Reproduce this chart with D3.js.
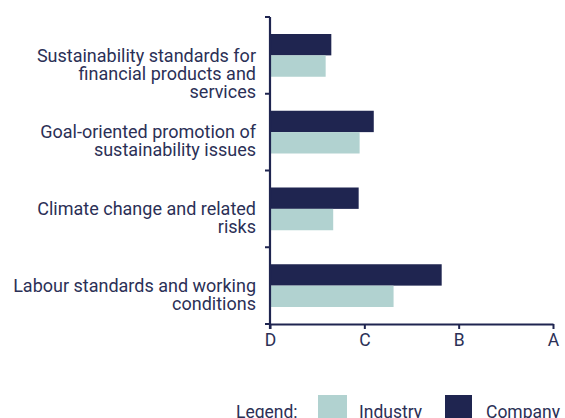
<!DOCTYPE html>
<html><head><meta charset="utf-8">
<script src="https://cdn.jsdelivr.net/npm/d3@7"></script>
<style>body{margin:0;background:#fff}svg{display:block}</style>
</head><body>
<script>
const categories = [
  ["Sustainability standards for","financial products and","services"],
  ["Goal-oriented promotion of","sustainability issues"],
  ["Climate change and related","risks"],
  ["Labour standards and working","conditions"]
];
const companyValues = [0.65, 1.10, 0.94, 1.82];
const industryValues = [0.59, 0.95, 0.67, 1.31];
const tickLabels = ["D","C","B","A"];
const seriesNames = ["Industry","Company"];

const W = 565, H = 418;
const navy = "#1f2550", teal = "#b1d2d0", textCol = "#2b3056";
const svg = d3.select("body").append("svg").attr("width", W).attr("height", H);
const font = "Roboto, 'Noto Sans', sans-serif";
const fs = 17.5;

const x = d3.scaleLinear().domain([0, 3]).range([270, 553]);
const y = d3.scaleBand().domain(d3.range(categories.length)).range([17, 324]);
const inner = d3.scaleBand().domain(["company","industry"]).range([17, y.bandwidth() - 17]);

const g = svg.append("g");
categories.forEach((c, i) => {
  const b = y(i);
  g.append("rect").attr("x", x(0)).attr("y", b + inner("company"))
    .attr("width", x(companyValues[i]) - x(0)).attr("height", inner.bandwidth()).attr("fill", navy);
  g.append("rect").attr("x", x(0)).attr("y", b + inner("industry"))
    .attr("width", x(industryValues[i]) - x(0)).attr("height", inner.bandwidth()).attr("fill", teal);
  const t = g.append("text").attr("text-anchor", "end").attr("font-family", font)
    .attr("font-size", 18).attr("fill", textCol);
  c.forEach((line, k) => {
    t.append("tspan").attr("x", 256).attr("y", b + y.bandwidth()/2 + 6.3 + k*18).text(line);
  });
});

// y axis
const yAxisLine = svg.append("g");
yAxisLine.append("line").attr("x1", x(0)).attr("x2", x(0)).attr("y1", 17).attr("y2", 329)
  .attr("stroke", navy).attr("stroke-width", 2.2);
[17, ...d3.range(1, categories.length).map(i => y(i)), 324].forEach(v => {
  yAxisLine.append("line").attr("x1", x(0) - 5).attr("x2", x(0)).attr("y1", v).attr("y2", v)
    .attr("stroke", navy).attr("stroke-width", 2);
});

// x axis
const xAxis = d3.axisBottom(x).tickValues([0,1,2,3]).tickFormat((d,i) => tickLabels[i]).tickSize(5).tickSizeOuter(0);
const xg = svg.append("g").attr("transform", "translate(0,324)").call(xAxis);
xg.select(".domain").attr("stroke", navy).attr("stroke-width", 2.2);
xg.selectAll(".tick line").attr("stroke", navy).attr("stroke-width", 2);
xg.selectAll(".tick text").attr("font-family", font).attr("font-size", fs).attr("fill", textCol)
  .attr("y", 22).attr("dy", null);

// legend
const lg = svg.append("g").attr("font-family", font).attr("font-size", fs).attr("fill", textCol);
lg.append("text").attr("x", 236).attr("y", 417.5).text("Legend:");
lg.append("rect").attr("x", 318).attr("y", 395).attr("width", 29).attr("height", 24).attr("fill", teal);
lg.append("text").attr("x", 359).attr("y", 417.5).text(seriesNames[0]);
lg.append("rect").attr("x", 445).attr("y", 395).attr("width", 27).attr("height", 24).attr("fill", navy);
lg.append("text").attr("x", 486).attr("y", 417.5).text(seriesNames[1]);
</script>
</body></html>
